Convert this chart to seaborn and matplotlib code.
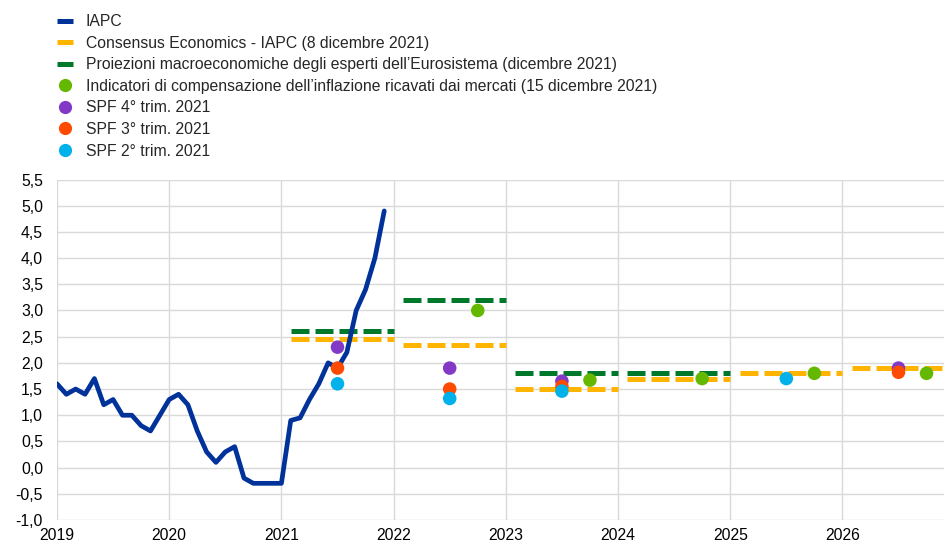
import pandas as pd
import seaborn as sns
import matplotlib.pyplot as plt
from matplotlib.lines import Line2D

# IAPC, variazione annua, dicembre 2018 - novembre 2021 (valore di fine mese)
iapc_months = pd.period_range('2018-12', '2021-11', freq='M')
iapc_values = [1.6,
               1.4, 1.5, 1.4, 1.7, 1.2, 1.3, 1.0, 1.0, 0.8, 0.7, 1.0, 1.3,
               1.4, 1.2, 0.7, 0.3, 0.1, 0.3, 0.4, -0.2, -0.3, -0.3, -0.3, -0.3,
               0.9, 0.95, 1.3, 1.6, 2.0, 1.9, 2.2, 3.0, 3.4, 4.0, 4.9]

# Consensus Economics (8 dicembre 2021), media annua
consensus_years = [2021, 2022, 2023, 2024, 2025, 2026]
consensus_values = [2.45, 2.35, 1.5, 1.7, 1.8, 1.9]

# Proiezioni Eurosistema (dicembre 2021)
eurosystem_years = [2021, 2022, 2023, 2024]
eurosystem_values = [2.6, 3.2, 1.8, 1.8]

# Indicatori di mercato (15 dicembre 2021)
market_x = [2022.75, 2023.75, 2024.75, 2025.75, 2026.75]
market_values = [3.0, 1.67, 1.7, 1.8, 1.8]

# SPF
spf_q4_x = [2021.5, 2022.5, 2023.5, 2026.5]
spf_q4_values = [2.3, 1.9, 1.65, 1.9]
spf_q3_x = [2021.5, 2022.5, 2023.5, 2026.5]
spf_q3_values = [1.9, 1.5, 1.55, 1.82]
spf_q2_x = [2021.5, 2022.5, 2023.5, 2025.5]
spf_q2_values = [1.6, 1.32, 1.46, 1.7]

labels = [
    'IAPC',
    'Consensus Economics - IAPC (8 dicembre 2021)',
    'Proiezioni macroeconomiche degli esperti dell\u2019Eurosistema (dicembre 2021)',
    'Indicatori di compensazione dell\u2019inflazione ricavati dai mercati (15 dicembre 2021)',
    'SPF 4\u00b0 trim. 2021',
    'SPF 3\u00b0 trim. 2021',
    'SPF 2\u00b0 trim. 2021',
]

BLUE = '#003299'
YELLOW = '#FFB400'
DGREEN = '#00782A'
LGREEN = '#65B800'
PURPLE = '#8139C6'
RED = '#FF4B00'
CYAN = '#00B1EA'

sns.set_theme(style='white')
plt.rcParams['font.family'] = ['Liberation Sans', 'DejaVu Sans']

iapc = pd.DataFrame({'x': [p.year + p.month / 12 for p in iapc_months],
                     'value': iapc_values})

fig = plt.figure(figsize=(9.44, 5.44), dpi=100)
ax = fig.add_axes([57 / 944, 24 / 544, 897.6 / 944, 340.5 / 544])

dash = (3.6, 1.2)
for yr, val in zip(consensus_years, consensus_values):
    ax.plot([yr + 1 / 12, yr + 1], [val, val], color=YELLOW, lw=3.6,
            dashes=dash, solid_capstyle='butt', zorder=2)
for yr, val in zip(eurosystem_years, eurosystem_values):
    ax.plot([yr + 1 / 12, yr + 1], [val, val], color=DGREEN, lw=3.6,
            dashes=dash, solid_capstyle='butt', zorder=2)

sns.lineplot(data=iapc, x='x', y='value', ax=ax, color=BLUE, lw=3.4,
             solid_joinstyle='round', zorder=3, legend=False)

for xs, vals, col in [(market_x, market_values, LGREEN),
                      (spf_q4_x, spf_q4_values, PURPLE),
                      (spf_q3_x, spf_q3_values, RED),
                      (spf_q2_x, spf_q2_values, CYAN)]:
    sns.scatterplot(x=xs, y=vals, ax=ax, color=col, s=95, edgecolor='none',
                    zorder=4, legend=False)

ax.set_xlim(2019, 2027)
ax.set_ylim(-1, 5.5)
ax.set_xticks(range(2019, 2027))
ax.set_yticks([i / 2 for i in range(-2, 12)])
ax.set_yticklabels([f'{v / 2:.1f}'.replace('.', ',') for v in range(-2, 12)])
ax.grid(True, color='#d9d9d9', lw=1.0)
ax.set_axisbelow(True)
for s in ax.spines.values():
    s.set_visible(False)
ax.tick_params(axis='both', length=0, labelsize=11.3, colors='black')
ax.tick_params(axis='y', pad=10)
ax.tick_params(axis='x', pad=6)
ax.set_xlabel('')
ax.set_ylabel('')

bar = dict(lw=3.6, solid_capstyle='butt')
dot = dict(ls='none', marker='o', ms=9.5, mec='none')
handles = [
    Line2D([], [], color=BLUE, **bar),
    Line2D([], [], color=YELLOW, **bar),
    Line2D([], [], color=DGREEN, **bar),
    Line2D([], [], color=LGREEN, **dot),
    Line2D([], [], color=PURPLE, **dot),
    Line2D([], [], color=RED, **dot),
    Line2D([], [], color=CYAN, **dot),
]
fig.legend(handles, labels, loc='upper left', bbox_to_anchor=(57 / 944, 1 - 14 / 544),
           frameon=False, fontsize=11.3, handlelength=1.05, handletextpad=0.78,
           labelspacing=0.42, borderpad=0, borderaxespad=0)

fig.savefig('out.png', dpi=100)
